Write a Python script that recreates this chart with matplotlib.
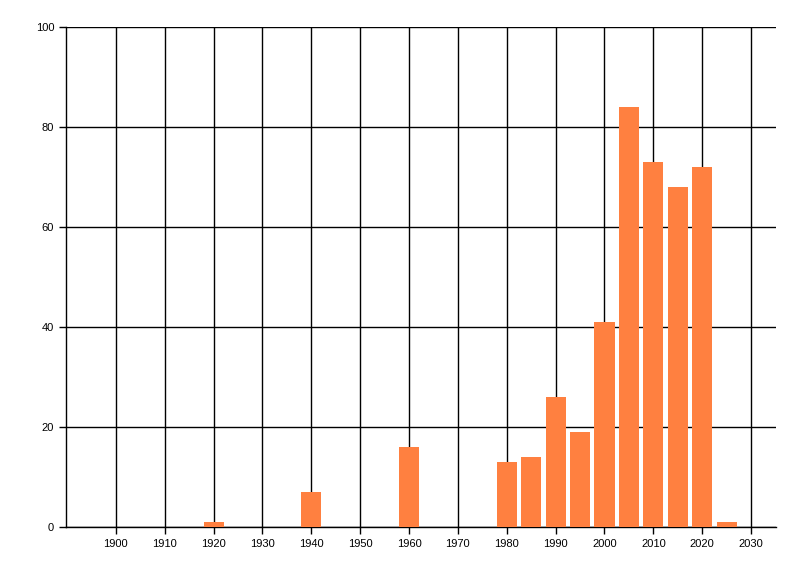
import matplotlib
matplotlib.use("Agg")
import matplotlib.pyplot as plt

years = [1920, 1940, 1960, 1980, 1985, 1990, 1995, 2000, 2005, 2010, 2015, 2020, 2025]
counts = [1, 7, 16, 13, 14, 26, 19, 41, 84, 73, 68, 72, 1]
x_ticks = list(range(1900, 2031, 10))
y_ticks = list(range(0, 101, 20))


def main():
    plt.rcParams['font.family'] = ['Liberation Sans', 'DejaVu Sans']
    fig = plt.figure(figsize=(8, 5.76), dpi=100)
    ax = fig.add_axes([0.0825, 0.085, 0.8875, 0.868])

    ax.bar(years, counts, width=4.1, color="#ff8040", zorder=3)

    ax.set_xlim(1889.8, 2035.1)
    ax.set_ylim(0, 100)
    ax.set_xticks(x_ticks)
    ax.set_yticks(y_ticks)
    ax.grid(True, color="black", linewidth=1, zorder=0)
    ax.tick_params(axis="both", labelsize=8, length=5, width=1, color="black")
    for side in ["top", "right"]:
        ax.spines[side].set_visible(False)
    ax.spines["left"].set_linewidth(1)
    ax.spines["bottom"].set_linewidth(1)

    fig.savefig("out.png", dpi=100)


if __name__ == "__main__":
    main()
